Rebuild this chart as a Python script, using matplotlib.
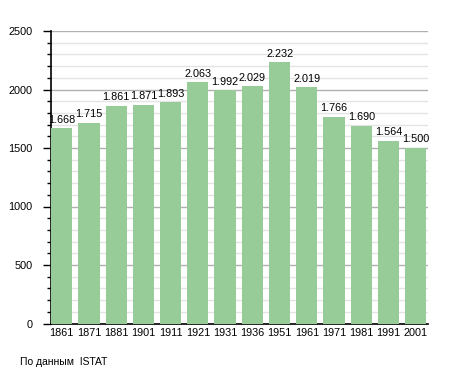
import matplotlib
matplotlib.use("Agg")
import matplotlib.pyplot as plt
from matplotlib.ticker import MultipleLocator

years = ["1861", "1871", "1881", "1901", "1911", "1921", "1931", "1936",
         "1951", "1961", "1971", "1981", "1991", "2001"]
population = [1668, 1715, 1861, 1871, 1893, 2063, 1992, 2029,
              2232, 2019, 1766, 1690, 1564, 1500]
value_labels = ["1.668", "1.715", "1.861", "1.871", "1.893", "2.063", "1.992",
                "2.029", "2.232", "2.019", "1.766", "1.690", "1.564", "1.500"]
y_ticks = [0, 500, 1000, 1500, 2000, 2500]
source = "По данным  ISTAT"

plt.rcParams["font.family"] = ["Liberation Sans", "DejaVu Sans"]

fig = plt.figure(figsize=(4.55, 3.73), dpi=100)
ax = fig.add_axes([50.5 / 455, 1 - 323.5 / 373, 377 / 455, 292.5 / 373])

x = list(range(len(years)))
ax.bar(x, population, width=0.78, color="#97cb97", zorder=3)

ax.set_xlim(-0.41, 13.43)
ax.set_ylim(0, 2500)
ax.set_yticks(y_ticks)
ax.yaxis.set_minor_locator(MultipleLocator(100))
ax.grid(axis="y", which="major", color="#b0b0b0", linewidth=1.0, zorder=1)
ax.grid(axis="y", which="minor", color="#e4e4e4", linewidth=1.0, zorder=1)

ax.set_xticks(x)
ax.set_xticklabels(years, fontsize=7.8)
ax.tick_params(axis="x", length=0, pad=3)
ax.tick_params(axis="y", which="major", length=6, width=1, labelsize=7.8, pad=7)
ax.tick_params(axis="y", which="minor", length=3, width=1)

for s in ["top", "right"]:
    ax.spines[s].set_visible(False)
ax.spines["left"].set_linewidth(1.2)
ax.spines["bottom"].set_linewidth(1.2)

for xi, v, lab in zip(x, population, value_labels):
    ax.text(xi, v + 30, lab, ha="center", va="bottom", fontsize=7.8, zorder=4)

fig.text(20 / 455, 1 - 362 / 373, source, fontsize=7.5, ha="left", va="center")

fig.savefig("out.png", dpi=100)
